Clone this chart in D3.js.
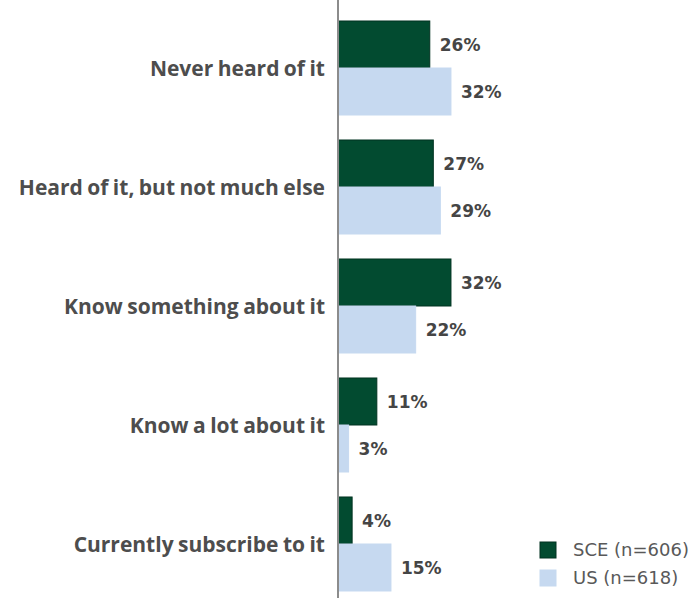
<!DOCTYPE html>
<html>
<head>
<meta charset="utf-8">
<script src="https://cdn.jsdelivr.net/npm/d3@7"></script>
<style>
  html, body { margin: 0; padding: 0; background: #fff; }
  svg { display: block; }
</style>
</head>
<body>
<svg id="chart" width="699" height="602"></svg>
<script>
// Awareness levels and the share of each group (percent)
const categories = [
  "Never heard of it",
  "Heard of it, but not much else",
  "Know something about it",
  "Know a lot about it",
  "Currently subscribe to it"
];
const seriesNames = ["SCE (n=606)", "US (n=618)"];
const sceValues = [26, 27, 32, 11, 4];
const usValues = [32, 29, 22, 3, 15];

const colors = ["#024b30", "#c6d9f0"];
const strokes = ["#013320", "#c6d9f0"];

const svg = d3.select("#chart");
const axisX = 338;

const x = d3.scaleLinear().domain([0, 100]).range([axisX, axisX + 353]);
const y = d3.scaleBand().domain(categories).range([21, 591]).paddingInner(0.21).paddingOuter(0);
const y1 = d3.scaleBand().domain([0, 1]).range([0, y.bandwidth()]);

const rows = categories.map((c, i) => ({ cat: c, vals: [sceValues[i], usValues[i]] }));

const groups = svg.selectAll("g.grp").data(rows).join("g")
  .attr("class", "grp")
  .attr("transform", d => `translate(0,${y(d.cat)})`);

groups.selectAll("rect").data(d => d.vals.map((v, k) => ({ v, k }))).join("rect")
  .attr("x", x(0))
  .attr("y", d => y1(d.k))
  .attr("width", d => x(d.v) - x(0))
  .attr("height", y1.bandwidth())
  .attr("fill", d => colors[d.k])
  .attr("stroke", d => strokes[d.k])
  .attr("stroke-width", 1);

groups.selectAll("text.val").data(d => d.vals.map((v, k) => ({ v, k }))).join("text")
  .attr("class", "val")
  .attr("x", d => x(d.v) + 10)
  .attr("y", d => y1(d.k) + y1.bandwidth() / 2)
  .attr("dy", "0.36em")
  .attr("font-family", "DejaVu Sans, sans-serif")
  .attr("font-weight", "bold")
  .attr("font-size", 17)
  .attr("fill", "#454545")
  .text(d => d.v + "%");

// Category labels as a left axis without ticks
const axis = d3.axisLeft(y).tickSize(0).tickPadding(13);
const ag = svg.append("g").attr("transform", `translate(${axisX},0)`).call(axis);
ag.select(".domain").remove();
ag.selectAll("text")
  .attr("font-family", "Open Sans, sans-serif")
  .attr("font-weight", "bold")
  .attr("font-size", 21)
  .attr("word-spacing", -1)
  .attr("dy", "0.4em")
  .attr("fill", "#4d4d4d");

// Vertical baseline
svg.append("line")
  .attr("x1", axisX).attr("x2", axisX)
  .attr("y1", 0).attr("y2", 598)
  .attr("stroke", "#8c8c8c").attr("stroke-width", 2);

// Legend
const legend = svg.append("g").attr("transform", "translate(540,542)");
const li = legend.selectAll("g").data(seriesNames).join("g")
  .attr("transform", (d, i) => `translate(0,${i * 28})`);
li.append("rect")
  .attr("width", 16).attr("height", 16)
  .attr("fill", (d, i) => colors[i])
  .attr("stroke", (d, i) => strokes[i]);
li.append("text")
  .attr("x", 33).attr("y", 8).attr("dy", "0.36em")
  .attr("font-family", "DejaVu Sans, sans-serif")
  .attr("font-size", 18)
  .attr("fill", "#595959")
  .text(d => d);
</script>
</body>
</html>
